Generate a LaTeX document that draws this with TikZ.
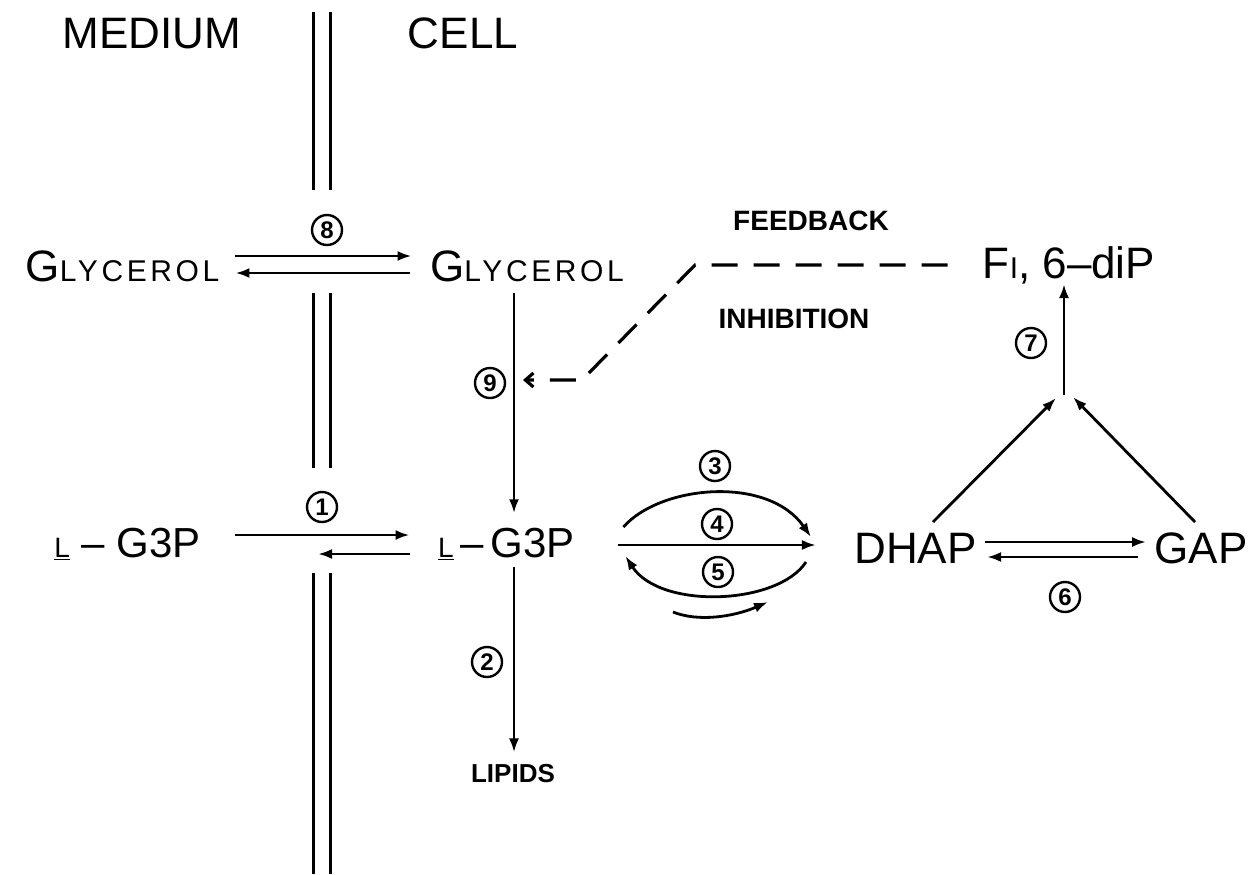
\documentclass[tikz,border=0pt]{standalone}
\usepackage{fontspec}
\setmainfont{Liberation Sans}
\newfontfamily\spacedfont[LetterSpace=12]{Liberation Sans}
\usetikzlibrary{arrows.meta}

\newcommand{\bigtxt}{\fontsize{22}{22}\selectfont}
\newcommand{\midtxt}{\fontsize{21}{21}\selectfont}
\newcommand{\glyc}{{\spacedfont\fontsize{22}{22}\selectfont G\fontsize{15}{15}\selectfont LYCEROL}}
\newcommand{\lgp}[1]{\underline{\fontsize{14}{14}\selectfont L}#1--#1G3P}

\tikzset{
  lbl/.style={inner sep=0pt, anchor=base},
  rxn/.style={->, line width=1.4pt},
  memb/.style={line width=1.5pt},
  enz/.style={circle, draw, line width=1.2pt, inner sep=0pt, minimum size=15pt,
    font=\fontsize{12}{12}\selectfont\bfseries},
  fbline/.style={line width=1.6pt, dash pattern=on 13pt off 8pt},
}

\begin{document}
\begin{tikzpicture}[x=0.5pt, y=-0.5pt, >={Latex[length=7pt,width=5pt]}]
\useasboundingbox (0,0) rectangle (1258,874);
% membrane
\draw[memb] (313,12) -- (313,190) (330,12) -- (330,190);
\draw[memb] (313,293) -- (313,468) (330,293) -- (330,468);
\draw[memb] (313,573) -- (313,874) (330,573) -- (330,874);

% compartments
\node[lbl, font=\bigtxt] (medium) at (152,48) {MEDIUM};
\node[lbl, font=\bigtxt] (cell) at (463,48) {CELL};

% metabolites
\node[lbl, minimum width=107.5pt] (gly1) at (122.5,281) {\glyc};
\node[lbl, minimum width=105pt] (gly2) at (527,281) {\glyc};
\node[lbl, minimum width=96pt, font=\bigtxt] (fdp) at (1069,278)
  {F{\fontsize{15}{15}\selectfont I}, 6--diP};
\node[lbl, minimum width=84.5pt, font=\midtxt] (lg1) at (127.5,557) {\lgp{\ }};
\node[lbl, minimum width=76.5pt, font=\midtxt] (lg2) at (506.5,557) {\lgp{\,}};
\node[lbl, minimum width=59.5pt, font=\bigtxt] (dhap) at (915.5,563) {DHAP};
\node[lbl, minimum width=45pt, font=\bigtxt] (gap) at (1201,563) {GAP};
\node[lbl, font=\fontsize{13}{13}\selectfont\bfseries] (lip) at (513,782) {LIPIDS};
\node[lbl, font=\fontsize{14}{14}\selectfont\bfseries] (feedb) at (811,230) {FEEDBACK};
\node[lbl, font=\fontsize{14}{14}\selectfont\bfseries] (inhib) at (794,328) {INHIBITION};

% enzymes
\node[enz] (e1) at (322,507) {1};
\node[enz] (e2) at (487,662) {2};
\node[enz] (e3) at (715,466) {3};
\node[enz] (e4) at (717,524) {4};
\node[enz] (e5) at (718,572) {5};
\node[enz] (e6) at (1065,597) {6};
\node[enz] (e7) at (1031,343) {7};
\node[enz] (e8) at (327,230) {8};
\node[enz] (e9) at (490,383) {9};

\coordinate (col) at (514,0);
\coordinate (mb1) at (318,554);
\coordinate (apex) at (1064,395);
\coordinate (fb1) at (695,265);
\coordinate (fb2) at (582,380);
\coordinate (fbend) at (col |- fb2);

% transport
\draw[rxn] ([shift={(5,-25)}]gly1.base east) -- ([shift={(-10,-25)}]gly2.base west);
\draw[rxn] ([shift={(-12,-8)}]gly2.base west) -- ([shift={(5,-8)}]gly1.base east);
\draw[rxn] ([shift={(23,-22)}]lg1.base east) -- ([shift={(-20,-22)}]lg2.base west);
\draw[rxn] ([shift={(-20,-3)}]lg2.base west) -- (mb1);

% cell pathway
\draw[rxn, shorten <=5.5pt, shorten >=7pt] (col |- gly2.south) -- (col |- lg2.north);
\draw[rxn, shorten <=3pt, shorten >=5.5pt] (col |- lg2.south) -- (col |- lip.north);
\draw[rxn] ([shift={(35,-12)}]lg2.base east) -- ([shift={(-38,-18)}]dhap.base west);
\draw[rxn] ([shift={(40,-30)}]lg2.base east) .. controls +(37,-42) and +(-43,-62) .. ([shift={(-43,-26)}]dhap.base west);
\draw[rxn] ([shift={(-48,-1)}]dhap.base west) .. controls +(-28,43) and +(35,54) .. ([shift={(42,-1)}]lg2.base east);
\draw[rxn] ([shift={(-45,40)}]e5.center) .. controls +(25,10) and +(-35,15) .. ([shift={(50,30)}]e5.center);
\draw[rxn] ([shift={(8,-21)}]dhap.base east) -- ([shift={(-8,-21)}]gap.base west);
\draw[rxn] ([shift={(-16,-6)}]gap.base west) -- ([shift={(10,-6)}]dhap.base east);
\draw[rxn] ([shift={(17.5,-41)}]dhap.base) -- ([shift={(-8,3)}]apex);
\draw[rxn] ([shift={(-6,-41)}]gap.base) -- ([shift={(9,2)}]apex);
\draw[rxn] (apex) -- (apex |- fdp.south);

% feedback inhibition
\draw[fbline, -{Straight Barb[length=4pt,width=7pt]}] ([shift={(-25,-13)}]fdp.base west) -- (fb1) -- (fb2) -- ([xshift=4.5pt]fbend);
\end{tikzpicture}
\end{document}
